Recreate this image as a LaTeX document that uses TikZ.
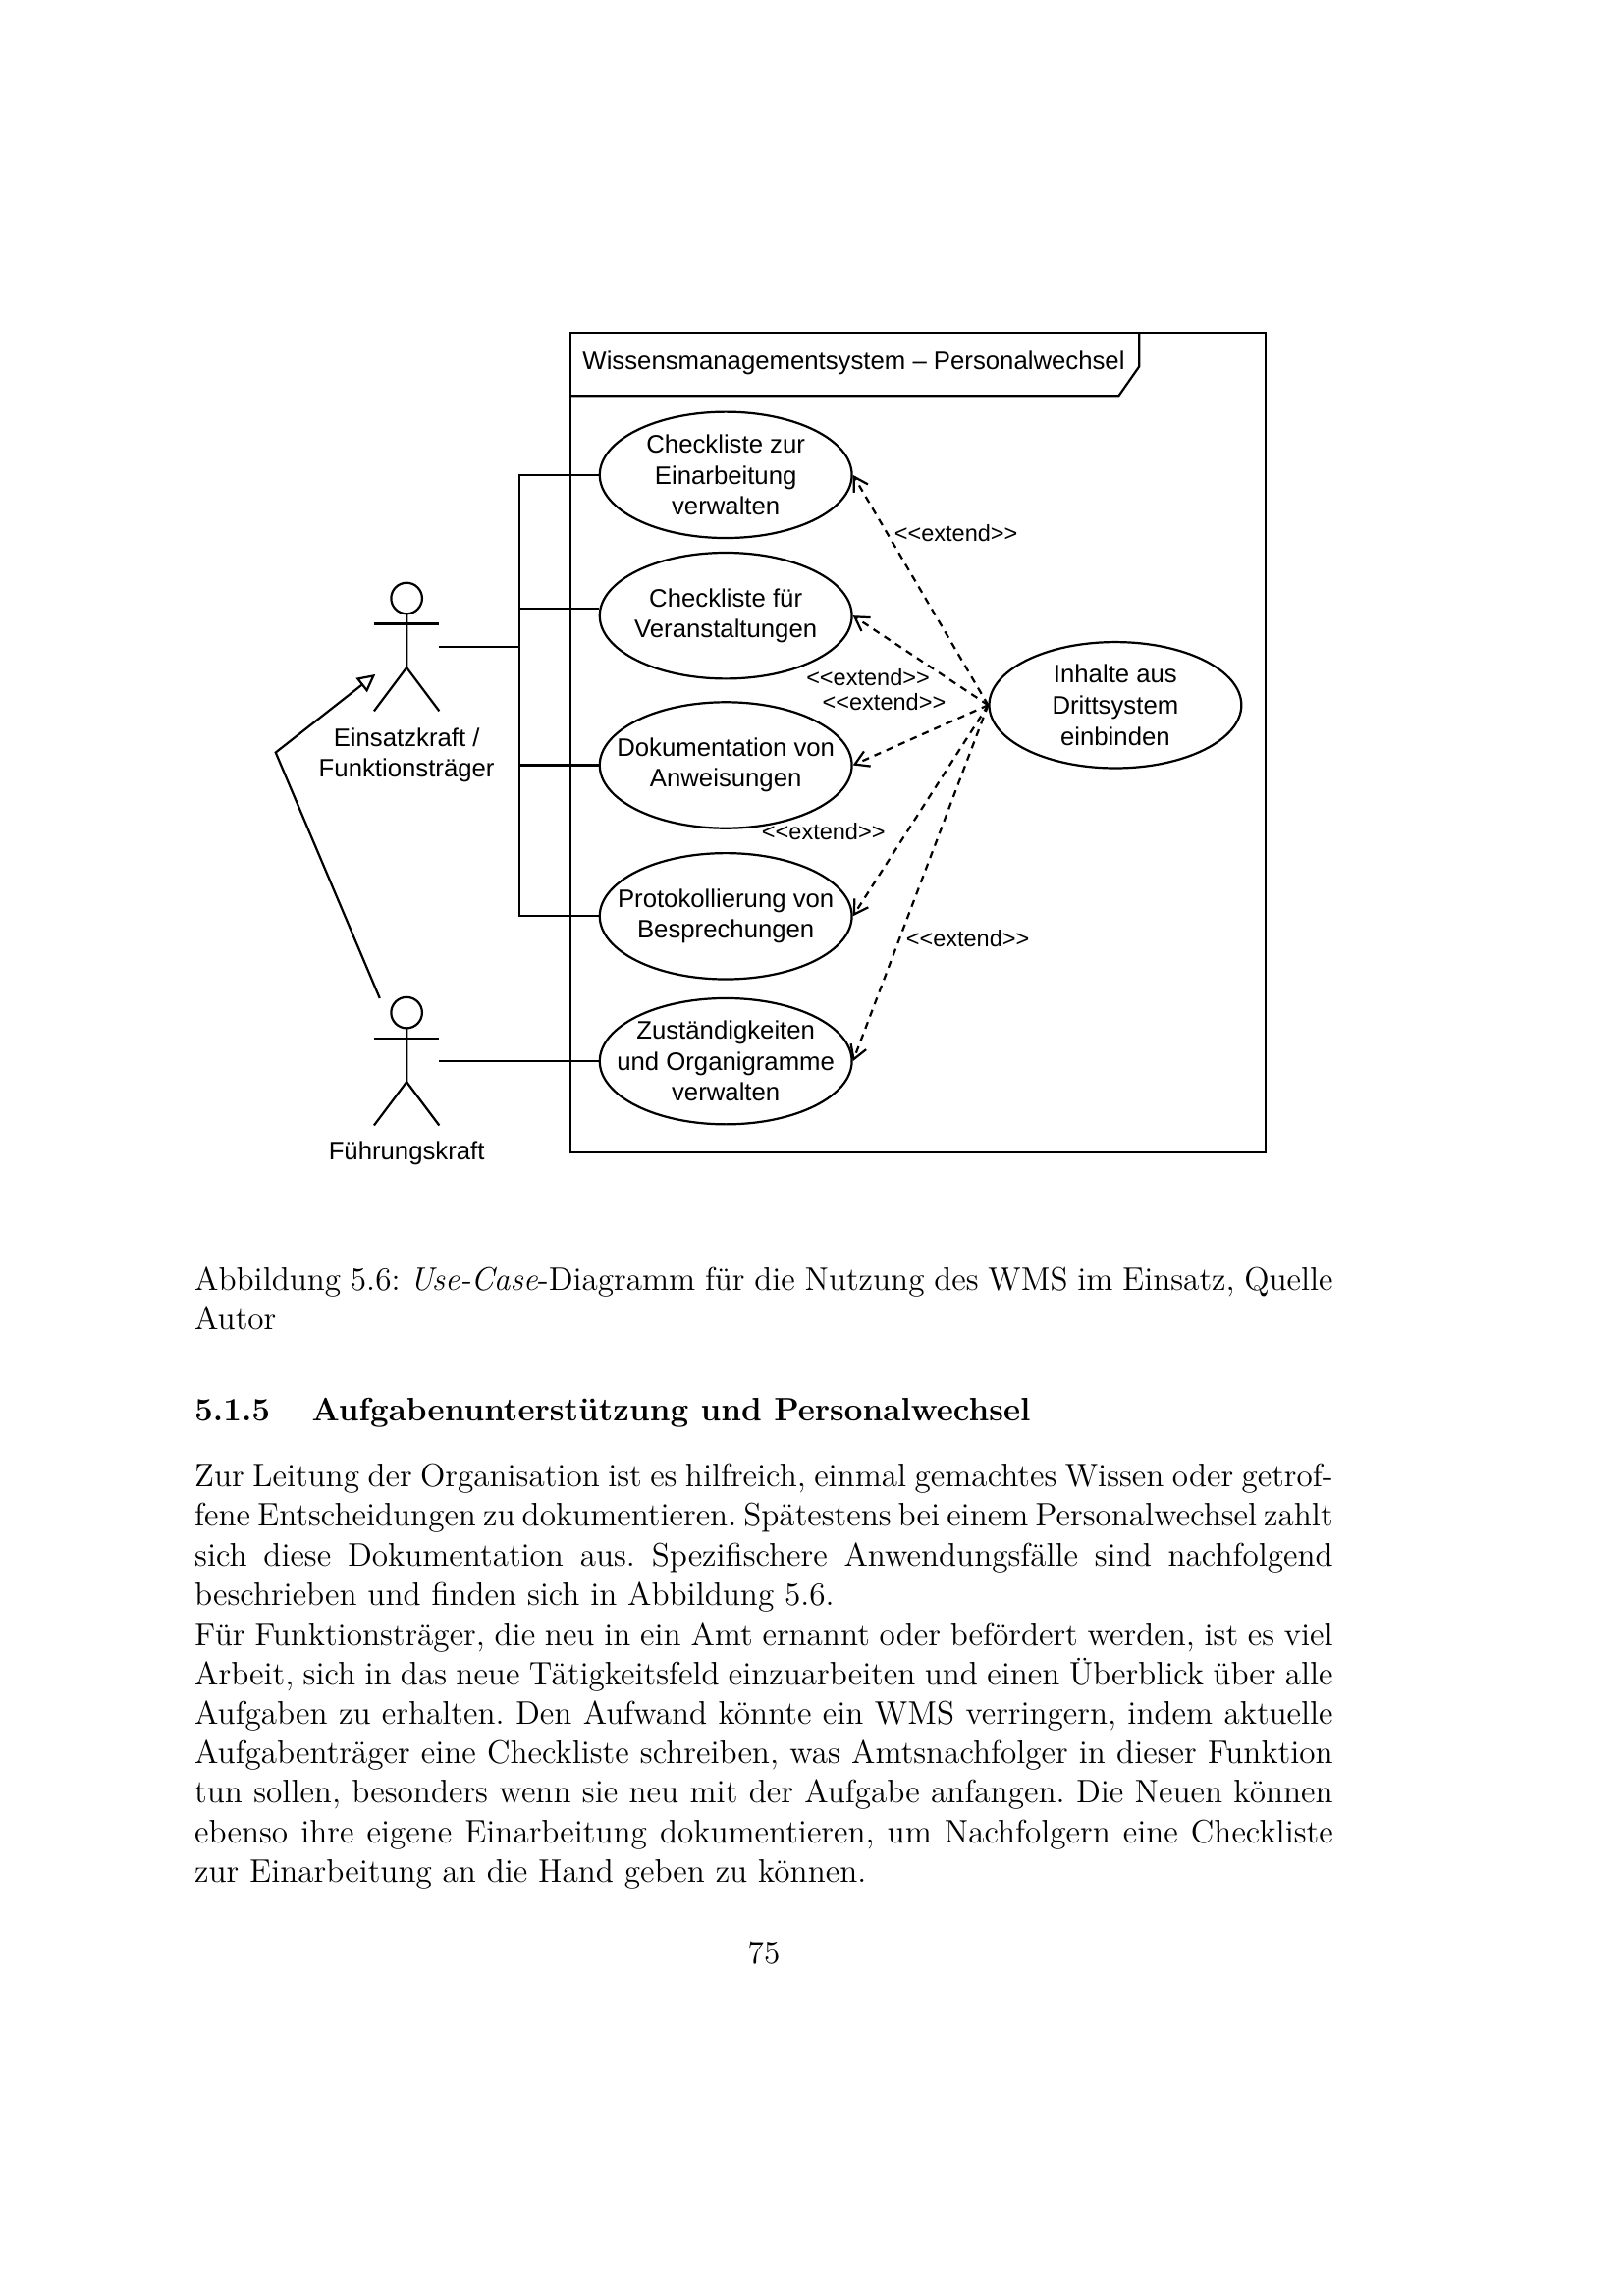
\documentclass[tikz,border=0pt]{standalone}
\usepackage{fontspec}
\usepackage{tikz}
\usetikzlibrary{positioning,shapes,arrows.meta}
\newfontfamily\diagfont{Liberation Sans}

% stick figure inside an empty node
\newcommand{\actorfig}[1]{%
  \draw ([yshift=-5.7pt]#1.north) circle (5.7pt);
  \draw ([yshift=-15.1pt]#1.north west) -- ([yshift=-15.1pt]#1.north east);
  \draw ([yshift=-11.4pt]#1.north) -- ([yshift=-31.2pt]#1.north) -- (#1.south west);
  \draw ([yshift=-31.2pt]#1.north) -- (#1.south east);
}
% one full line of the page text
\newcommand{\fullline}[1]{\hbox to 419pt{\spaceskip=.333em plus 1em minus .2em\relax #1}}

\begin{document}
\begin{tikzpicture}[x=0.35975pt,y=-0.35975pt,line width=0.8pt,auto,node distance=1cm]
            \tikzstyle{usecase}=[ellipse, draw, inner sep=0pt, minimum width=92.8pt, minimum height=46.4pt]
            \tikzstyle{casetext}=[inner sep=0pt, align=center, font=\diagfont\fontsize{9.3}{11.4}\selectfont]
            \tikzstyle{actor}=[inner sep=0pt, minimum width=23.2pt, minimum height=46.4pt]
            \tikzstyle{actorlabel}=[inner sep=0pt, align=center, font=\diagfont\fontsize{9.3}{11.4}\selectfont]
            \tikzstyle{extendlabel}=[inner sep=0pt, font=\diagfont\fontsize{8.5}{10}\selectfont]
            \tikzstyle{extendarrow}=[->, >={Straight Barb[length=5pt,width=6pt]}, dash pattern=on 2.6pt off 2.2pt]
            \tikzstyle{pagetext}=[inner sep=0pt, anchor=north west, align=left,
            font=\fontsize{12}{14.5}\selectfont\frenchspacing]
            \useasboundingbox (0,0) rectangle (1661.4,2349.5);
            %      frame
            %  E    U1
            %       U2     X
            %       U3
            %  F    U5
            \node[draw, inner sep=0pt, minimum width=255.8pt, minimum height=301.6pt] (frame) at (939,759.75) {};
            \node[anchor=west, inner sep=0pt, font=\diagfont\fontsize{9.3}{11.4}\selectfont] (title) at (595,372) {Wissensmanagementsystem – Personalwechsel};
            \draw (583.5,405) -- (1144.5,405) -- (1165.5,375) -- (1165.5,340.5);

            \node[usecase, label={[casetext]center:{Checkliste zur\\Einarbeitung\\verwalten}}] (U1) at (742.5,486) {};
            \node[usecase, label={[casetext]center:{Checkliste für\\Veranstaltungen}}] (U2) at (742.5,630) {};
            \node[usecase, label={[casetext]center:{Dokumentation von\\Anweisungen}}] (U3) at (742.5,783) {};
            \node[usecase, label={[casetext]center:{Protokollierung von\\Besprechungen}}] (U4) at (742.5,937.5) {};
            \node[usecase, label={[casetext]center:{Zuständigkeiten\\und Organigramme\\verwalten}}] (U5) at (742.5,1086) {};
            \node[usecase, label={[casetext]center:{Inhalte aus\\Drittsystem\\einbinden}}] (X) at (1141,721.5) {};

            \node[actor] (E) at (416,662) {};
            \node[actor] (F) at (416,1086) {};
            \actorfig{E}
            \actorfig{F}
            \node[actorlabel, below=5.8pt of E] (Elabel) {Einsatzkraft /\\Funktionsträger};
            \node[actorlabel, below=5.5pt of F] (Flabel) {Führungskraft};

            \coordinate (bus) at (531,662);
            \coordinate (genstart) at (388.5,1021.5);
            \coordinate (genbend) at (282,770);
            \coordinate (gentip) at (384,690);
            \draw (E.east) -- (bus);
            \draw (U1.west) -- (U1.west -| bus) -- (U4.west -| bus) -- (U4.west);
            \draw ([yshift=2.7pt]U2.west) -- ([yshift=2.7pt]U2.west -| bus);
            \draw (U3.west) -- (U3.west -| bus);
            \draw (F.east) -- (U5.west);
            \draw[-{Triangle[open,length=6.5pt,width=6.5pt]}] (genstart) -- (genbend) -- (gentip);

            \path[extendarrow] (X.west) edge (U1.east)
                  (X.west) edge (U2.east)
                  (X.west) edge (U3.east)
                  (X.west) edge (U4.east)
                  (X.west) edge (U5.east);
            \node[extendlabel] (L1) at (978,546) {<<extend>>};
            \node[extendlabel] (L2) at (888,693.5) {<<extend>>};
            \node[extendlabel] (L3) at (904.5,718) {<<extend>>};
            \node[extendlabel] (L4) at (842.5,851) {<<extend>>};
            \node[extendlabel] (L5) at (990,960.5) {<<extend>>};

            % page text
            \node[pagetext] (caption) at (198,1295) {\fullline{Abbildung 5.6: \textit{Use-Case}-Diagramm für die Nutzung des WMS im Einsatz, Quelle}\\
            Autor};
            \node[inner sep=0pt, anchor=north west, font=\bfseries\fontsize{12}{14.5}\selectfont] (heading) at (198,1430) {5.1.5\hspace{15.4pt}Aufgabenunterstützung und Personalwechsel};
            \node[pagetext] (par1) at (198,1497) {\fullline{Zur Leitung der Organisation ist es hilfreich, einmal gemachtes Wissen oder getrof-}\\
            \fullline{fene Entscheidungen zu dokumentieren. Spätestens bei einem Personalwechsel zahlt}\\
            \fullline{sich diese Dokumentation aus. Spezifischere Anwendungsfälle sind nachfolgend}\\
            beschrieben und finden sich in Abbildung 5.6.};
            \node[pagetext] (par2) at (198,1659) {\fullline{Für Funktionsträger, die neu in ein Amt ernannt oder befördert werden, ist es viel}\\
            \fullline{Arbeit, sich in das neue Tätigkeitsfeld einzuarbeiten und einen Überblick über alle}\\
            \fullline{Aufgaben zu erhalten. Den Aufwand könnte ein WMS verringern, indem aktuelle}\\
            \fullline{Aufgabenträger eine Checkliste schreiben, was Amtsnachfolger in dieser Funktion}\\
            \fullline{tun sollen, besonders wenn sie neu mit der Aufgabe anfangen. Die Neuen können}\\
            \fullline{ebenso ihre eigene Einarbeitung dokumentieren, um Nachfolgern eine Checkliste}\\
            zur Einarbeitung an die Hand geben zu können.};
            \node[inner sep=0pt, font=\fontsize{12}{14.5}\selectfont] (pagenum) at (781.5,1999) {75};
\end{tikzpicture}
\end{document}
